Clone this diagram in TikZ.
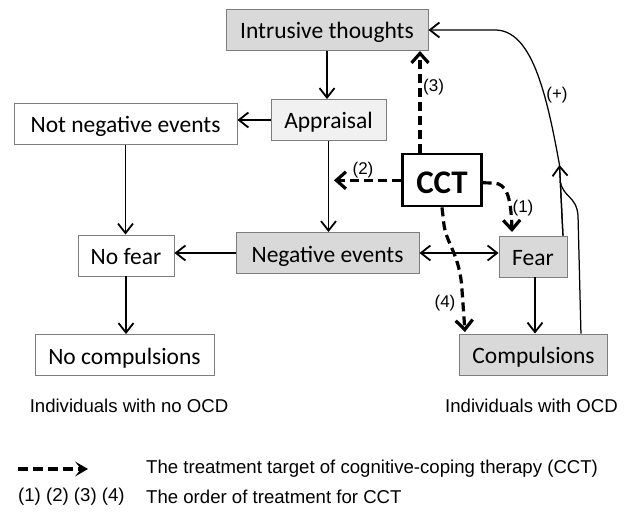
\documentclass[tikz,border=0pt]{standalone}
\usepackage{fontspec}
\setmainfont{Carlito}
\newfontfamily\arialf{Liberation Sans}
\usetikzlibrary{arrows.meta}
\definecolor{boxline}{RGB}{125,125,125}
\definecolor{boxgray}{RGB}{217,217,217}
\definecolor{boxlight}{RGB}{241,241,241}
\begin{document}
\begin{tikzpicture}[x=1pt,y=-1pt,
  box/.style={draw=boxline,line width=0.9pt,inner sep=0pt,minimum height=41pt,text height=18pt,text depth=0pt,font=\fontsize{23.5}{26}\selectfont},
  graybox/.style={box,fill=boxgray},
  lightbox/.style={box,fill=boxlight},
  whitebox/.style={box,fill=white},
  tipthin/.tip={Straight Barb[length=9.5pt,width=15pt,line width=1.8pt]},
  arr/.style={line width=1.25pt,-tipthin},
  thinline/.style={line width=1.25pt},
  darr/.style={line width=3.2pt,dash pattern=on 9pt off 5pt,-{Straight Barb[length=9.5pt,width=17pt,line width=3.2pt]}},
  lab/.style={font=\arialf\fontsize{17}{19}\selectfont,inner sep=0pt},
  captxt/.style={font=\arialf\fontsize{18.6}{21}\selectfont,inner sep=0pt}]
\useasboundingbox (0,0) rectangle (629,513);

% boxes
\node[graybox,minimum width=202pt] (it) at (327,30) {Intrusive thoughts};
\node[lightbox,minimum width=115pt] (ap) at (328.5,120) {Appraisal};
\node[whitebox,minimum width=223pt] (nne) at (125.5,124) {Not negative events};
\node[draw=black,fill=white,line width=2.2pt,inner sep=0pt,minimum width=79pt,minimum height=52pt,text height=26pt,text depth=0pt,font=\bfseries\fontsize{33}{36}\selectfont] (cct) at (442,180.3) {CCT};
\node[graybox,minimum width=183pt] (ne) at (327.5,253) {Negative events};
\node[graybox,minimum width=68pt] (fear) at (533,256.5) {Fear};
\node[whitebox,minimum width=96pt] (nf) at (126,255.5) {No fear};
\node[whitebox,minimum width=179pt] (nc) at (124.5,355) {No compulsions};
\node[graybox,minimum width=148pt] (comp) at (533.5,354.5) {Compulsions};

% captions
\node[captxt] (c1) at (129,406) {Individuals with no OCD};
\node[captxt] (c2) at (531.5,406) {Individuals with OCD};

% solid arrows
\draw[arr] (it.south) -- (it.south |- ap.north);
\draw[arr] (ap.west) -- (ap.west -| nne.east);
\draw[arr] (ap.south) -- (ap.south |- ne.north);
\draw[arr] (nne.south) -- (nne.south |- nf.north);
\draw[arr] (ne.west) -- (ne.west -| nf.east);
\draw[arr] (nf.south) -- (nf.south |- nc.north);
\draw[line width=1.25pt,tipthin-tipthin] (ne.east) -- (ne.east -| fear.west);
\draw[arr] ([xshift=2pt]fear.south) -- ([xshift=2pt]fear.south |- comp.north);

% feedback loop
\coordinate (fu) at ([xshift=-4.5pt]fear.north east);
\coordinate (tipup) at (559.5,165);
\coordinate (topc) at (495,30);
\coordinate (cu) at ([xshift=-27pt]comp.north east);
\coordinate (cbend) at (578,215);
\coordinate (merge) at (560.3,182);
\draw[arr] (fu) -- (tipup) .. controls (546,90) and (531,30) .. (topc) -- (it.east);
\draw[arr] (fu) -- (tipup);
\draw[thinline] (cu) -- (cbend) .. controls (576,196) and (564,198) .. (merge);
\node[lab] (plus) at (557,95) {(+)};

% dashed treatment arrows
\coordinate (d3) at (420,51);
\draw[darr] ([xshift=-22pt]cct.north) -- (d3);
\node[lab,anchor=west] (l3) at (423,87) {(3)};
\coordinate (d2) at (334,180.3);
\draw[darr] (cct.west) -- (d2);
\node[lab] (l2) at (363,170) {(2)};
\coordinate (d1a) at (494,183);
\coordinate (d1) at (512,232);
\draw[darr] ([yshift=-2.5pt]cct.east) -- (d1a) .. controls (506,184) and (511,195) .. (d1);
\node[lab] (l1) at (523,208) {(1)};
\coordinate (d4a) at (444,225);
\coordinate (d4b) at (462,290);
\coordinate (d4) at (465,332);
\draw[darr] (cct.south) -- (d4a) .. controls (447,245) and (460,255) .. (d4b) -- (d4);
\node[lab] (l4) at (445,303) {(4)};

% legend
\coordinate (lg1) at (18,469);
\coordinate (lg2) at (88,469);
\draw[line width=4pt,dash pattern=on 10pt off 5pt,-{Stealth[length=13pt,width=15pt,inset=6pt]}] (lg1) -- (lg2);
\node[captxt,anchor=west] (t1) at (146,469) {The treatment target of cognitive-coping therapy (CCT)};
\node[captxt,anchor=west] (t2) at (18,497) {(1) (2) (3) (4)};
\node[captxt,anchor=west] (t3) at (146,497) {The order of treatment for CCT};
\end{tikzpicture}
\end{document}
